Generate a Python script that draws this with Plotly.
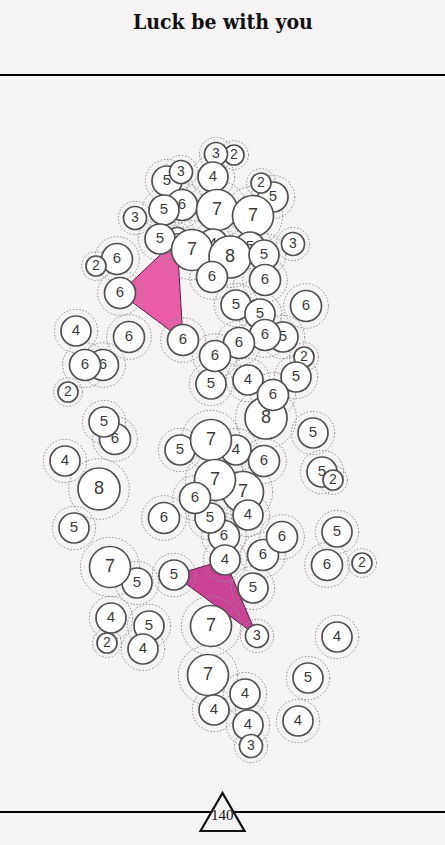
import numpy as np
import plotly.graph_objects as go

# ---------------- data ----------------
TITLE = "Luck be with you"
PAGE_NUMBER = "140"

node_x = [167, 181, 234, 216, 213, 273, 261, 182, 164, 217, 253, 293, 177, 160, 213, 250, 192, 230, 264, 135,
          117, 96, 120, 212, 265, 236, 260, 306, 283, 265, 304, 239, 211, 215, 248, 296, 266, 273, 183, 76,
          129, 103, 85, 68, 115, 104, 65, 99, 74, 180, 236, 211, 264, 313, 322, 333, 243, 215, 248, 224,
          210, 195, 164, 263, 282, 225, 337, 327, 362, 253, 137, 110, 174, 211, 257, 337, 111, 107, 149, 143,
          208, 245, 214, 248, 251, 308, 298]
node_y = [181, 172, 155, 154, 177, 197, 183, 205, 210, 210, 216, 244, 239, 239, 244, 247, 250, 257, 255, 218,
          259, 266, 293, 277, 280, 305, 314, 306, 337, 335, 357, 343, 384, 356, 380, 377, 418, 395, 340, 331,
          337, 365, 365, 392, 439, 422, 461, 489, 528, 450, 450, 440, 461, 433, 472, 480, 492, 480, 515, 536,
          518, 498, 518, 555, 537, 560, 532, 565, 563, 588, 583, 567, 575, 626, 636, 637, 618, 643, 626, 649,
          675, 694, 710, 725, 746, 678, 721]
node_value = [5, 3, 2, 3, 4, 5, 2, 6, 5, 7, 7, 3, 3, 5, 4, 5, 7, 8, 5, 3,
              6, 2, 6, 6, 6, 5, 5, 6, 5, 6, 2, 6, 5, 6, 4, 5, 8, 6, 6, 4,
              6, 6, 6, 2, 6, 5, 4, 8, 5, 5, 4, 7, 6, 5, 5, 2, 7, 7, 4, 6,
              5, 6, 6, 6, 6, 4, 5, 6, 2, 5, 5, 7, 5, 7, 3, 4, 4, 2, 5, 4,
              7, 4, 4, 4, 3, 5, 4]

# groups of nodes joined by a filled hull
group_a_nodes = [22, 12, 38]
group_b_nodes = [72, 65, 74]

# ---------------- style ----------------
BG = "#f5f3f4"
RADIUS = {2: 10, 3: 11.5, 4: 15, 5: 15, 6: 15.5, 7: 20.5, 8: 21}
FONT_SIZE = {2: 14, 3: 14, 4: 15, 5: 15, 6: 15, 7: 18, 8: 18}
HALO_FACTOR = 1.45

fig = go.Figure()

# hull polygons
for nodes, fillc in [(group_a_nodes, "#e85ca8"), (group_b_nodes, "#c94296")]:
    px = [node_x[i] for i in nodes] + [node_x[nodes[0]]]
    py = [node_y[i] for i in nodes] + [node_y[nodes[0]]]
    fig.add_trace(go.Scatter(x=px, y=py, mode="lines", fill="toself", fillcolor=fillc,
                             line=dict(color="#5c1d45", width=1), hoverinfo="skip", showlegend=False))

# dotted halos
theta = np.linspace(0, 2 * np.pi, 91)
hx, hy = [], []
for x, y, v in zip(node_x, node_y, node_value):
    r = RADIUS[v] * HALO_FACTOR
    hx += list(x + r * np.cos(theta)) + [None]
    hy += list(y + r * np.sin(theta)) + [None]
fig.add_trace(go.Scatter(x=hx, y=hy, mode="lines",
                         line=dict(color="#959394", width=1, dash="1.5px,1.8px"),
                         hoverinfo="skip", showlegend=False))

# nodes
for x, y, v in zip(node_x, node_y, node_value):
    fig.add_trace(go.Scatter(
        x=[x], y=[y], mode="markers+text", text=[str(v)], textposition="middle center",
        textfont=dict(family="Liberation Sans, Arial, sans-serif", size=FONT_SIZE[v], color="#3a3a3a"),
        marker=dict(size=2 * RADIUS[v], color="#ffffff", line=dict(color="#505050", width=1.7)),
        hoverinfo="skip", showlegend=False))

shapes = [
    dict(type="line", xref="x", yref="y", x0=0, x1=445, y0=75, y1=75, line=dict(color="#000", width=2)),
    dict(type="line", xref="x", yref="y", x0=0, x1=445, y0=812, y1=812, line=dict(color="#000", width=2)),
    dict(type="path", xref="x", yref="y", path="M 200.5,831 L 222.5,793 L 244.5,831 Z",
         fillcolor=BG, line=dict(color="#111", width=2.2)),
]

annotations = [
    dict(text="<b>" + TITLE + "</b>", x=222.5, y=21, xref="x", yref="y", showarrow=False,
         font=dict(family="DejaVu Serif Condensed, DejaVu Serif, serif", size=21, color="#111"),
         xanchor="center", yanchor="middle"),
    dict(text=PAGE_NUMBER, x=222, y=815, xref="x", yref="y", showarrow=False,
         font=dict(family="Liberation Serif, serif", size=15, color="#111"), xanchor="center", yanchor="middle"),
]

fig.update_layout(
    width=445, height=845, margin=dict(l=0, r=0, t=0, b=0),
    paper_bgcolor=BG, plot_bgcolor=BG,
    xaxis=dict(range=[0, 445], visible=False, fixedrange=True),
    yaxis=dict(range=[845, 0], visible=False, fixedrange=True),
    shapes=shapes, annotations=annotations, showlegend=False,
)

fig.write_html("out.html", config={"displayModeBar": False, "staticPlot": True},
               post_script="document.body.style.margin='0';")
